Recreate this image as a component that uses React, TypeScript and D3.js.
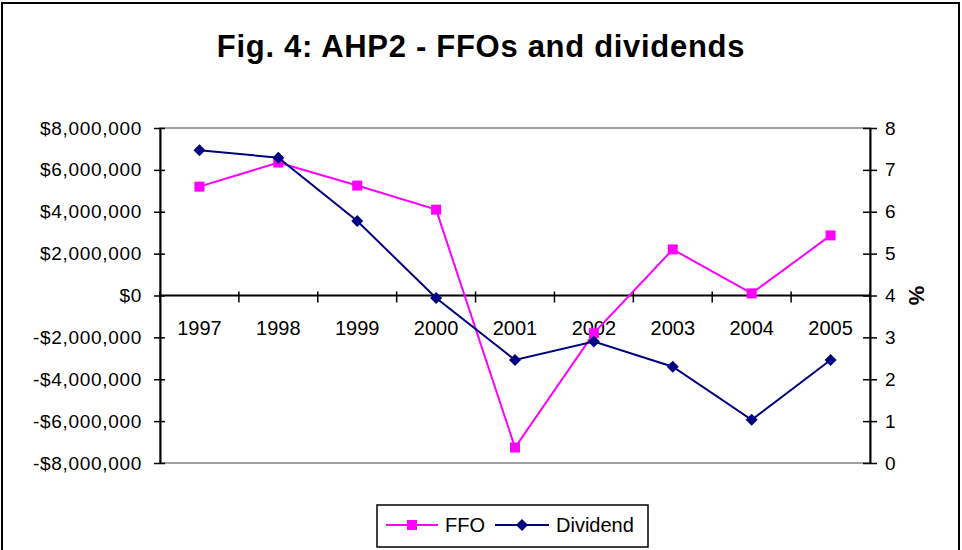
import React, { useEffect, useRef } from 'react';
import * as d3 from 'd3';

const years = ['1997', '1998', '1999', '2000', '2001', '2002', '2003', '2004', '2005'];
const ffo = [5200000, 6350000, 5250000, 4100000, -7260000, -1800000, 2200000, 100000, 2870000];
const dividend = [7.47, 7.29, 5.78, 3.94, 2.46, 2.9, 2.3, 1.03, 2.46];
const leftTicks = [-8000000, -6000000, -4000000, -2000000, 0, 2000000, 4000000, 6000000, 8000000];
const rightTicks = [0, 1, 2, 3, 4, 5, 6, 7, 8];

const width = 962;
const height = 550;
const font = 'Arial, "Liberation Sans", sans-serif';
const pink = '#ff00ff';
const navy = '#000080';

export default function App() {
  const ref = useRef<SVGSVGElement>(null);

  useEffect(() => {
    const svg = d3.select(ref.current);
    svg.selectAll('*').remove();

    const left = 160;
    const right = 870;
    const top = 128;
    const bottom = 463;

    const xScale = d3.scaleBand().domain(years).range([left, right]);
    const yLeft = d3.scaleLinear().domain([-8000000, 8000000]).range([bottom, top]);
    const yRight = d3.scaleLinear().domain([0, 8]).range([bottom, top]);
    const cx = (d: string) => (xScale(d) as number) + xScale.bandwidth() / 2;

    // outer border
    svg
      .append('rect')
      .attr('x', 2)
      .attr('y', 3)
      .attr('width', width - 5)
      .attr('height', height + 10)
      .attr('fill', 'white')
      .attr('stroke', 'black')
      .attr('stroke-width', 2);

    svg
      .append('text')
      .attr('x', 481)
      .attr('y', 57)
      .attr('text-anchor', 'middle')
      .style('font-family', font)
      .style('font-size', '31px')
      .style('letter-spacing', '0.7px')
      .style('font-weight', 'bold')
      .text('Fig. 4: AHP2 - FFOs and dividends');

    // plot area
    svg
      .append('rect')
      .attr('x', left)
      .attr('y', top)
      .attr('width', right - left)
      .attr('height', bottom - top)
      .attr('fill', 'white')
      .attr('stroke', '#808080')
      .attr('stroke-width', 1.5);

    // left axis
    const yAxisL = d3
      .axisLeft(yLeft)
      .tickValues(leftTicks)
      .tickSize(0)
      .tickPadding(18)
      .tickFormat((d) => {
        const v = d as number;
        return (v < 0 ? '-$' : '$') + d3.format(',')(Math.abs(v));
      });
    const gL = svg.append('g').attr('transform', 'translate(' + left + ',0)').call(yAxisL);
    gL.select('.domain').attr('stroke', 'black').attr('stroke-width', 2);
    gL.selectAll('.tick')
      .append('line')
      .attr('x1', -6)
      .attr('x2', 5)
      .attr('stroke', 'black')
      .attr('stroke-width', 1.5);
    gL.selectAll('text')
      .style('font-family', font)
      .style('font-size', '19px')
      .style('letter-spacing', '0.7px')
      .attr('fill', 'black');

    // right axis
    const yAxisR = d3.axisRight(yRight).tickValues(rightTicks).tickSize(0).tickPadding(15);
    const gR = svg.append('g').attr('transform', 'translate(' + right + ',0)').call(yAxisR);
    gR.select('.domain').attr('stroke', 'black').attr('stroke-width', 2);
    gR.selectAll('.tick')
      .append('line')
      .attr('x1', -7)
      .attr('x2', 7)
      .attr('stroke', 'black')
      .attr('stroke-width', 1.5);
    gR.selectAll('text').style('font-family', font).style('font-size', '19px').attr('fill', 'black');

    svg
      .append('text')
      .attr('transform', 'translate(917,' + yLeft(0) + ') rotate(90)')
      .attr('text-anchor', 'middle')
      .attr('dy', '0.35em')
      .style('font-family', font)
      .style('font-size', '22px')
      .style('font-weight', 'bold')
      .text('%');

    // category axis on zero line
    const zeroY = yLeft(0);
    svg
      .append('line')
      .attr('x1', left)
      .attr('x2', right)
      .attr('y1', zeroY)
      .attr('y2', zeroY)
      .attr('stroke', 'black')
      .attr('stroke-width', 2);
    const catTicks = years.map((d) => xScale(d) as number).concat([right]);
    svg
      .selectAll('line.cat')
      .data(catTicks)
      .enter()
      .append('line')
      .attr('class', 'cat')
      .attr('x1', (d) => d)
      .attr('x2', (d) => d)
      .attr('y1', zeroY - 4)
      .attr('y2', zeroY + 7)
      .attr('stroke', 'black')
      .attr('stroke-width', 1.5);
    svg
      .selectAll('text.cat')
      .data(years)
      .enter()
      .append('text')
      .attr('class', 'cat')
      .attr('x', (d) => cx(d))
      .attr('y', zeroY + 39)
      .attr('text-anchor', 'middle')
      .style('font-family', font)
      .style('font-size', '20px')
      .text((d) => d);

    // FFO line
    const ffoLine = d3
      .line<number>()
      .x((d, i) => cx(years[i]))
      .y((d) => yLeft(d));
    svg
      .append('path')
      .attr('d', ffoLine(ffo))
      .attr('fill', 'none')
      .attr('stroke', pink)
      .attr('stroke-width', 2);
    svg
      .selectAll('rect.ffo')
      .data(ffo)
      .enter()
      .append('rect')
      .attr('class', 'ffo')
      .attr('x', (d, i) => cx(years[i]) - 5)
      .attr('y', (d) => yLeft(d) - 5)
      .attr('width', 10)
      .attr('height', 10)
      .attr('fill', pink);

    // Dividend line
    const divLine = d3
      .line<number>()
      .x((d, i) => cx(years[i]))
      .y((d) => yRight(d));
    svg
      .append('path')
      .attr('d', divLine(dividend))
      .attr('fill', 'none')
      .attr('stroke', navy)
      .attr('stroke-width', 2);
    const diamond = d3.symbol().type(d3.symbolSquare).size(72);
    svg
      .selectAll('path.div')
      .data(dividend)
      .enter()
      .append('path')
      .attr('class', 'div')
      .attr('d', diamond())
      .attr('transform', (d, i) => 'translate(' + cx(years[i]) + ',' + yRight(d) + ') rotate(45)')
      .attr('fill', navy);

    // legend
    const lg = svg.append('g');
    lg.append('rect')
      .attr('x', 377)
      .attr('y', 505)
      .attr('width', 271)
      .attr('height', 42)
      .attr('fill', 'white')
      .attr('stroke', 'black')
      .attr('stroke-width', 1.5);
    const ly = 525;
    lg.append('line').attr('x1', 386).attr('x2', 438).attr('y1', ly).attr('y2', ly).attr('stroke', pink).attr('stroke-width', 2);
    lg.append('rect').attr('x', 407).attr('y', ly - 5).attr('width', 10).attr('height', 10).attr('fill', pink);
    lg.append('text')
      .attr('x', 445)
      .attr('y', ly)
      .attr('dy', '0.35em')
      .style('font-family', font)
      .style('font-size', '20px')
      .text('FFO');
    lg.append('line').attr('x1', 495).attr('x2', 549).attr('y1', ly).attr('y2', ly).attr('stroke', navy).attr('stroke-width', 2);
    lg.append('path')
      .attr('d', diamond())
      .attr('transform', 'translate(522,' + ly + ') rotate(45)')
      .attr('fill', navy);
    lg.append('text')
      .attr('x', 556)
      .attr('y', ly)
      .attr('dy', '0.35em')
      .style('font-family', font)
      .style('font-size', '20px')
      .text('Dividend');
  }, []);

  return (
    <svg
      ref={ref}
      width={width}
      height={height}
      style={{ position: 'absolute', left: 0, top: 0, background: 'white' }}
    />
  );
}
